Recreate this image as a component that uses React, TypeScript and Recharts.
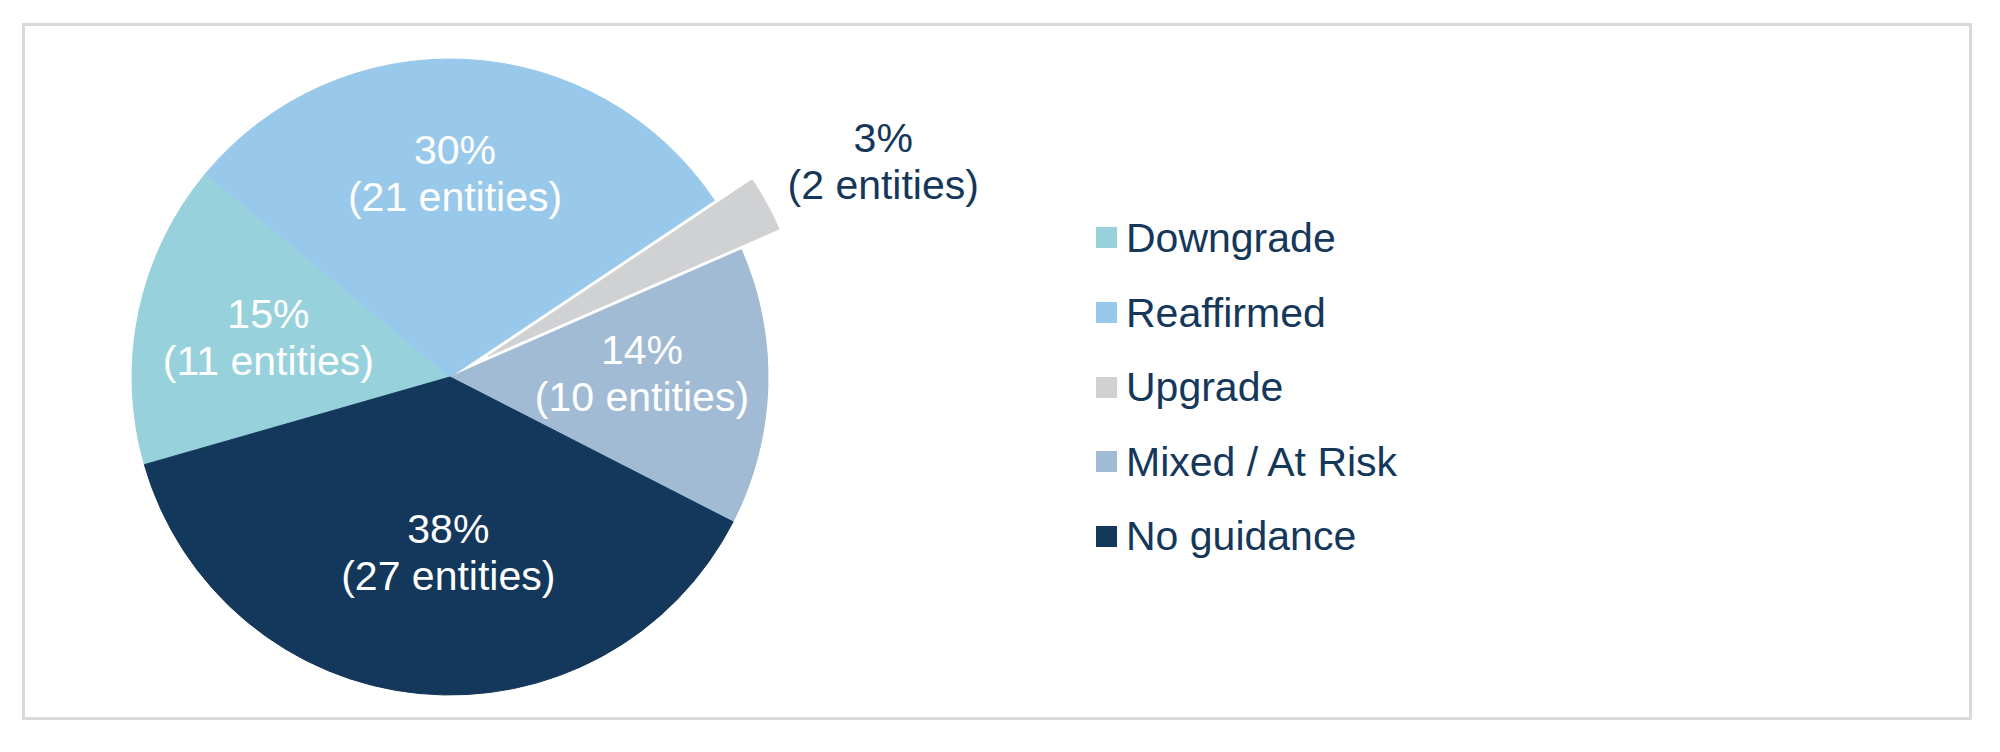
import React from 'react';
import { PieChart, Pie, Cell, Legend, Sector } from 'recharts';

const categories = ['Downgrade', 'Reaffirmed', 'Upgrade', 'Mixed / At Risk', 'No guidance'];
const entityCounts = [11, 21, 2, 10, 27];
const sliceColors = ['#97D1DC', '#99C9EA', '#D0D1D3', '#A1BBD4', '#14385B'];
const explodedCategory = 'Upgrade';

const data = categories.map((name, i) => ({ name, value: entityCounts[i] }));

const FONT = "'Liberation Sans', Arial, Helvetica, sans-serif";
const NAVY = '#14375A';
const RAD = Math.PI / 180;
const EXPLODE = 43;
const FS = 41;

const LABEL_POS: Record<string, { r: number; shift: number }> = {
  Downgrade: { r: 186, shift: -0.6 },
  Reaffirmed: { r: 204, shift: 1.6 },
  Upgrade: { r: 484, shift: -2.2 },
  'Mixed / At Risk': { r: 192, shift: 3 },
  'No guidance': { r: 175, shift: 5 },
};

const renderLabel = (props: any) => {
  const { cx, cy, midAngle, percent, value } = props;
  const name = props.name ?? props.payload?.name;
  const p = LABEL_POS[name] || { r: 190, shift: 0 };
  const a = (midAngle + p.shift) * RAD;
  const x = cx + p.r * Math.cos(a);
  const y = cy - p.r * Math.sin(a);
  const fill = name === explodedCategory ? NAVY : '#FFFFFF';
  return (
    <text x={x} y={y} textAnchor="middle" fill={fill} fontSize={FS} fontFamily={FONT}>
      <tspan x={x} y={y - 9}>{Math.round(percent * 100)}%</tspan>
      <tspan x={x} y={y + 38}>({value} entities)</tspan>
    </text>
  );
};

const renderSector = (props: any) => {
  const name = props.name ?? props.payload?.name;
  if (name === explodedCategory) {
    const a = -props.midAngle * RAD;
    return (
      <Sector
        {...props}
        cx={props.cx + EXPLODE * Math.cos(a)}
        cy={props.cy + EXPLODE * Math.sin(a)}
      />
    );
  }
  return <Sector {...props} />;
};

const renderLegend = () => {
  return (
    <div style={{ display: 'flex', flexDirection: 'column' }}>
      {categories.map((name, idx) => (
        <div key={name} style={{ height: 74.6, display: 'flex', alignItems: 'center' }}>
          <span
            style={{
              display: 'inline-block',
              width: 21,
              height: 21,
              background: sliceColors[idx],
              marginRight: 9,
            }}
          />
          <span
            style={{
              fontSize: FS,
              lineHeight: '46px',
              color: NAVY,
              fontFamily: FONT,
              whiteSpace: 'nowrap',
            }}
          >
            {name}
          </span>
        </div>
      ))}
    </div>
  );
};

export default function App() {
  return (
    <div
      style={{
        position: 'absolute',
        left: 0,
        top: 0,
        width: 2000,
        height: 752,
        background: '#FFFFFF',
      }}
    >
      <div
        style={{
          position: 'absolute',
          left: 22,
          top: 23,
          width: 1950,
          height: 697,
          border: '3px solid #D9D9D9',
          boxSizing: 'border-box',
        }}
      />
      <div style={{ position: 'absolute', left: 0, top: 0 }}>
        <PieChart width={2000} height={752} margin={{ top: 0, right: 0, bottom: 0, left: 0 }}>
          <Pie
            data={data}
            dataKey="value"
            nameKey="name"
            cx={450}
            cy={377}
            outerRadius={318}
            startAngle={196}
            endAngle={-164}
            label={renderLabel}
            labelLine={false}
            shape={renderSector}
            isAnimationActive={false}
          >
            {data.map((d, i) => (
              <Cell key={d.name} fill={sliceColors[i]} stroke={sliceColors[i]} strokeWidth={1} />
            ))}
          </Pie>
          <Legend
            layout="vertical"
            align="right"
            verticalAlign="middle"
            content={renderLegend}
            wrapperStyle={{ left: 1096, top: 200.7, width: 600, right: 'auto', bottom: 'auto' }}
          />
        </PieChart>
      </div>
    </div>
  );
}
